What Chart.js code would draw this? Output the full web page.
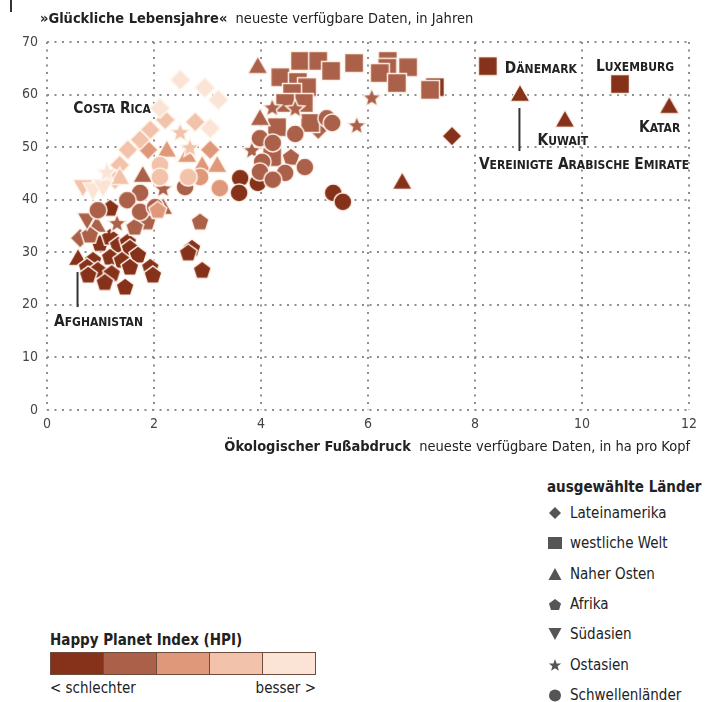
<!DOCTYPE html>
<html lang="de">
<head>
<meta charset="utf-8">
<title>Glückliche Lebensjahre und ökologischer Fußabdruck</title>
<script src="https://cdn.jsdelivr.net/npm/chart.js@4/dist/chart.umd.min.js"></script>
<style>
  html, body { margin: 0; padding: 0; background: #fff; }
  body { width: 707px; height: 702px; position: relative; overflow: hidden;
         font-family: 'Liberation Sans Narrow', 'DejaVu Sans Condensed', 'Noto Sans', sans-serif; color: #222; }
  #chart { position: absolute; left: 0; top: 0; }
  .mark { position: absolute; left: 10px; top: 0; width: 2px; height: 12px; background: #333; }
  #legend { position: absolute; left: 547px; top: 476px; font-size: 15px; }
  #legend .head { font-weight: bold; height: 22px; line-height: 22px; }
  #legend .row { height: 30.3px; display: flex; align-items: center; }
  #legend .row svg { width: 16px; height: 16px; margin-right: 7px; }
  #hpi { position: absolute; left: 50px; top: 628px; width: 266px; font-size: 15px; }
  #hpi .head { font-weight: bold; height: 24px; line-height: 24px; }
  #hpi .bar { display: flex; height: 23px; border: 1px solid #6e4c3e; box-sizing: border-box; }
  #hpi .bar div { flex: 1; border-right: 1px solid #6e4c3e; }
  #hpi .bar div:last-child { border-right: none; }
  #hpi .ends { display: flex; justify-content: space-between; height: 24px; line-height: 26px; }
</style>
</head>
<body>
<div class="mark"></div>
<canvas id="chart" width="707" height="470"></canvas>

<div id="legend">
  <div class="head">ausgewählte Länder</div>
  <div class="row"><svg viewBox="0 0 16 16"><path d="M8 2 L14 8 L8 14 L2 8 Z" fill="#555"/></svg>Lateinamerika</div>
  <div class="row"><svg viewBox="0 0 16 16"><rect x="1" y="2" width="14" height="12" fill="#555"/></svg>westliche Welt</div>
  <div class="row"><svg viewBox="0 0 16 16"><path d="M8 2 L14.5 14 L1.5 14 Z" fill="#555"/></svg>Naher Osten</div>
  <div class="row"><svg viewBox="0 0 16 16"><path d="M8 3 L14 7.5 L12 14 L4 14 L2 7.5 Z" fill="#555"/></svg>Afrika</div>
  <div class="row"><svg viewBox="0 0 16 16"><path d="M1.5 2 L14.5 2 L8 14 Z" fill="#555"/></svg>Südasien</div>
  <div class="row"><svg viewBox="0 0 16 16"><path d="M8 2 L9.6 6.4 L14.2 6.5 L10.6 9.3 L11.9 13.8 L8 11.2 L4.1 13.8 L5.4 9.3 L1.8 6.5 L6.4 6.4 Z" fill="#555"/></svg>Ostasien</div>
  <div class="row"><svg viewBox="0 0 16 16"><circle cx="8" cy="8.5" r="6" fill="#555"/></svg>Schwellenländer</div>
</div>

<div id="hpi">
  <div class="head">Happy Planet Index (HPI)</div>
  <div class="bar" id="hpiBar"></div>
  <div class="ends"><span>&lt; schlechter</span><span>besser &gt;</span></div>
</div>

<script>
// Each country: [Fußabdruck in ha pro Kopf, glückliche Lebensjahre, HPI-Klasse 1 (schlechter) … 5 (besser)]
const lateinamerika = [
  [2.49, 62.8, 5], [2.95, 61.3, 5], [3.20, 59.0, 5], [2.11, 57.4, 5], [2.77, 54.8, 4],
  [3.05, 53.6, 5], [2.21, 55.2, 4], [1.93, 53.3, 4], [1.74, 51.4, 4], [1.51, 49.5, 4],
  [1.89, 49.5, 3], [3.05, 49.5, 3], [1.36, 46.6, 4], [1.27, 43.8, 4], [0.62, 32.7, 2],
  [5.07, 53.3, 2], [7.57, 52.1, 1]
];
const westlicheWelt = [
  [4.73, 66.4, 2], [5.07, 66.4, 2], [5.31, 64.5, 2], [5.74, 66.0, 2], [4.36, 63.3, 2],
  [4.69, 62.4, 2], [4.86, 61.4, 2], [4.58, 60.3, 2], [4.80, 58.4, 2], [4.45, 58.4, 2],
  [4.30, 53.8, 2], [4.92, 54.6, 2], [4.21, 48.1, 2], [6.37, 66.4, 2], [6.36, 65.1, 2],
  [6.75, 65.2, 2], [6.22, 64.1, 2], [6.54, 62.2, 2], [7.16, 60.9, 2], [7.25, 61.4, 1],
  [8.24, 65.4, 1], [10.71, 62.0, 1]
];
const naherOsten = [
  [3.94, 65.4, 2], [3.98, 55.5, 2], [6.64, 43.4, 1], [8.84, 60.1, 1], [9.68, 55.2, 1],
  [11.63, 57.8, 1], [0.58, 28.9, 1], [2.24, 49.5, 3], [2.62, 48.5, 3], [2.90, 46.6, 3],
  [3.18, 46.6, 3], [1.36, 44.3, 4], [1.79, 44.7, 2], [2.17, 38.6, 2], [0.93, 35.2, 2]
];
const afrika = [
  [2.86, 35.8, 2], [2.71, 30.8, 1], [2.64, 29.9, 1], [2.90, 26.6, 1], [1.18, 38.4, 1],
  [1.87, 35.8, 2], [1.64, 34.8, 2], [2.07, 38.0, 3], [0.80, 33.3, 2], [0.99, 31.7, 1],
  [1.18, 32.9, 1], [1.33, 31.4, 1], [1.51, 32.0, 1], [1.55, 30.8, 1], [1.70, 29.5, 1],
  [1.18, 29.1, 1], [0.86, 28.5, 1], [1.40, 28.5, 1], [0.75, 27.2, 1], [0.95, 26.6, 1],
  [1.21, 26.0, 1], [1.55, 27.2, 1], [1.93, 27.2, 1], [1.98, 25.7, 1], [0.77, 25.7, 1],
  [1.08, 24.3, 1], [1.46, 23.4, 1], [4.56, 48.1, 2]
];
const suedasien = [
  [0.67, 42.4, 4], [0.86, 41.8, 5], [1.05, 42.4, 5], [0.75, 36.1, 2]
];
const ostasien = [
  [4.21, 57.6, 2], [4.64, 57.4, 2], [6.07, 59.5, 2], [5.79, 54.2, 2], [3.83, 49.5, 2],
  [2.17, 42.2, 2], [1.31, 35.6, 2], [1.12, 45.3, 5], [2.49, 52.9, 4], [2.67, 50.0, 4]
];
const schwellenlaender = [
  [5.23, 55.5, 2], [5.33, 54.6, 2], [4.64, 52.5, 2], [3.98, 51.7, 2], [4.22, 50.8, 2],
  [4.02, 47.2, 2], [3.98, 45.3, 2], [4.45, 45.1, 2], [4.22, 43.8, 2], [4.82, 46.2, 2],
  [3.94, 43.2, 1], [3.61, 44.1, 1], [3.59, 41.3, 1], [5.35, 41.3, 1], [5.53, 39.6, 1],
  [2.58, 42.4, 2], [1.74, 41.3, 2], [1.50, 39.9, 2], [0.95, 38.0, 2], [1.74, 37.7, 2],
  [2.02, 38.6, 2], [2.11, 46.6, 4], [2.64, 44.3, 4], [2.86, 44.3, 3], [2.11, 44.3, 4],
  [3.23, 42.2, 3]
];

const xTicks = [0, 2, 4, 6, 8, 10, 12];
const yTicks = [0, 10, 20, 30, 40, 50, 60, 70];
const hpiColors = ['#86321a', '#ab6049', '#e0987b', '#f2c3aa', '#fbe4d6'];

// Named countries and where their labels sit relative to the marker (px)
const namedCountries = [
  { text: 'Costa Rica', p: lateinamerika[3], dx: -9, dy: -1, align: 'right' },
  { text: 'Dänemark', p: westlicheWelt[20], dx: 17, dy: 1, align: 'left' },
  { text: 'Luxemburg', p: westlicheWelt[21], dx: -24, dy: -19, align: 'left' },
  { text: 'Kuwait', p: naherOsten[4], dx: -2, dy: 19, align: 'center' },
  { text: 'Katar', p: naherOsten[5], dx: 11, dy: 20, align: 'right' },
  { text: 'Vereinigte Arabische Emirate', p: naherOsten[3], dx: -41, dy: 69, align: 'left', lead: [14, 57] },
  { text: 'Afghanistan', p: naherOsten[6], dx: -24, dy: 62, align: 'left', lead: [14, 49] }
];

const FONT = "'Liberation Sans Narrow', 'DejaVu Sans Condensed', 'Noto Sans', sans-serif";

// colour bar
const bar = document.getElementById('hpiBar');
hpiColors.forEach(c => { const d = document.createElement('div'); d.style.background = c; bar.appendChild(d); });

// ---- marker images -------------------------------------------------------
function shapePath(g, shape, r) {
  g.beginPath();
  if (shape === 'circle') {
    g.arc(0, 0, r * 0.9, 0, Math.PI * 2);
  } else if (shape === 'square') {
    g.rect(-r * 0.95, -r * 0.95, r * 1.9, r * 1.9);
  } else if (shape === 'diamond') {
    g.moveTo(0, -r); g.lineTo(r, 0); g.lineTo(0, r); g.lineTo(-r, 0);
  } else if (shape === 'triangle') {
    g.moveTo(0, -r); g.lineTo(r, r * 0.75); g.lineTo(-r, r * 0.75);
  } else if (shape === 'down') {
    g.moveTo(-r, -r * 0.75); g.lineTo(r, -r * 0.75); g.lineTo(0, r);
  } else if (shape === 'pentagon') {
    for (let i = 0; i < 5; i++) {
      const a = -Math.PI / 2 + i * 2 * Math.PI / 5;
      g.lineTo(Math.cos(a) * r * 0.95, Math.sin(a) * r * 0.95 + 0.5);
    }
  } else if (shape === 'star') {
    for (let i = 0; i < 10; i++) {
      const a = -Math.PI / 2 + i * Math.PI / 5;
      const rr = i % 2 === 0 ? r : r * 0.45;
      g.lineTo(Math.cos(a) * rr, Math.sin(a) * rr + 1);
    }
  }
  g.closePath();
}
const markerCache = {};
function marker(shape, cls) {
  const key = shape + cls;
  if (markerCache[key]) return markerCache[key];
  const r = 10, s = 2 * r + 6;
  const c = document.createElement('canvas');
  c.width = c.height = s;
  const g = c.getContext('2d');
  g.translate(s / 2, s / 2);
  shapePath(g, shape, r);
  g.fillStyle = hpiColors[cls - 1];
  g.fill();
  g.lineWidth = 1.5;
  g.strokeStyle = 'rgba(255,246,238,0.95)';
  g.stroke();
  markerCache[key] = c;
  return c;
}

// one dataset per HPI class, lighter classes underneath
const regions = [
  [lateinamerika, 'diamond'], [westlicheWelt, 'square'], [naherOsten, 'triangle'],
  [afrika, 'pentagon'], [suedasien, 'down'], [ostasien, 'star'], [schwellenlaender, 'circle']
];
const datasets = [];
for (let cls = 5; cls >= 1; cls--) {
  const pts = [];
  regions.forEach(([arr, shape]) => arr.forEach(p => { if (p[2] === cls) pts.push({ x: p[0], y: p[1], shape }); }));
  datasets.push({
    label: 'HPI ' + cls,
    data: pts,
    pointStyle: ctx => marker(ctx.raw.shape, cls),
    pointRadius: 10
  });
}

// ---- text helpers -------------------------------------------------------
function smallCaps(ctx, text, x, y, size, align) {
  const small = Math.round(size * 0.8);
  const segs = [];
  for (const ch of text) {
    const isLower = ch !== ch.toUpperCase();
    const sz = isLower ? small : size;
    const t = ch.toUpperCase();
    if (segs.length && segs[segs.length - 1].sz === sz) segs[segs.length - 1].t += t;
    else segs.push({ t, sz });
  }
  let w = 0;
  segs.forEach(s => { ctx.font = `bold ${s.sz}px ${FONT}`; s.w = ctx.measureText(s.t).width; w += s.w; });
  let cx = align === 'right' ? x - w : align === 'center' ? x - w / 2 : x;
  ctx.textAlign = 'left';
  ctx.textBaseline = 'alphabetic';
  segs.forEach(s => { ctx.font = `bold ${s.sz}px ${FONT}`; ctx.fillText(s.t, cx, y); cx += s.w; });
}
function mixedLine(ctx, parts, x, y, align, size) {
  let w = 0;
  parts.forEach(p => { ctx.font = `${p.bold ? 'bold ' : ''}${size}px ${FONT}`; p.w = ctx.measureText(p.t).width; w += p.w; });
  let cx = align === 'right' ? x - w : x;
  ctx.textAlign = 'left';
  ctx.textBaseline = 'middle';
  parts.forEach(p => { ctx.font = `${p.bold ? 'bold ' : ''}${size}px ${FONT}`; ctx.fillText(p.t, cx, y); cx += p.w; });
}

const annotations = {
  id: 'annotations',
  afterDatasetsDraw(chart) {
    const { ctx, scales: { x, y } } = chart;
    ctx.save();
    ctx.fillStyle = '#222';
    ctx.strokeStyle = '#333';
    ctx.lineWidth = 2;
    namedCountries.forEach(n => {
      const px = x.getPixelForValue(n.p[0]);
      const py = y.getPixelForValue(n.p[1]);
      if (n.lead) {
        ctx.beginPath();
        ctx.moveTo(px - 0.5, py + n.lead[0]);
        ctx.lineTo(px - 0.5, py + n.lead[1]);
        ctx.stroke();
      }
      smallCaps(ctx, n.text, px + n.dx, py + n.dy + 6, 15.3, n.align);
    });
    // axis titles
    mixedLine(ctx, [{ t: '»Glückliche Lebensjahre«', bold: true }, { t: '  neueste verfügbare Daten, in Jahren' }], 40, 19, 'left', 14.5);
    mixedLine(ctx, [{ t: 'Ökologischer Fußabdruck', bold: true }, { t: '  neueste verfügbare Daten, in ha pro Kopf' }], chart.chartArea.right + 1, 447, 'right', 14.5);
    ctx.restore();
  }
};

const gridOpts = { color: '#8e8e8e', lineWidth: 2, drawTicks: false };
const tickFont = { family: FONT, size: 14 };

new Chart(document.getElementById('chart'), {
  type: 'scatter',
  data: { datasets },
  options: {
    responsive: false,
    animation: false,
    devicePixelRatio: 1,
    events: [],
    layout: { padding: { top: 42, right: 18, left: 0, bottom: 0 } },
    plugins: { legend: { display: false }, tooltip: { enabled: false } },
    scales: {
      x: {
        type: 'linear', min: 0, max: 12,
        afterBuildTicks: s => { s.ticks = xTicks.map(v => ({ value: v })); },
        afterFit: s => { s.height = 60; },
        ticks: { color: '#444', font: tickFont, padding: 6 },
        grid: gridOpts,
        border: { display: false, dash: [2, 5.5] }
      },
      y: {
        type: 'linear', min: 0, max: 70,
        afterBuildTicks: s => { s.ticks = yTicks.map(v => ({ value: v })); },
        afterFit: s => { s.width = 47; },
        ticks: { color: '#444', font: tickFont, padding: 9 },
        grid: gridOpts,
        border: { display: false, dash: [2, 5.5] }
      }
    }
  },
  plugins: [annotations]
});
</script>
</body>
</html>
